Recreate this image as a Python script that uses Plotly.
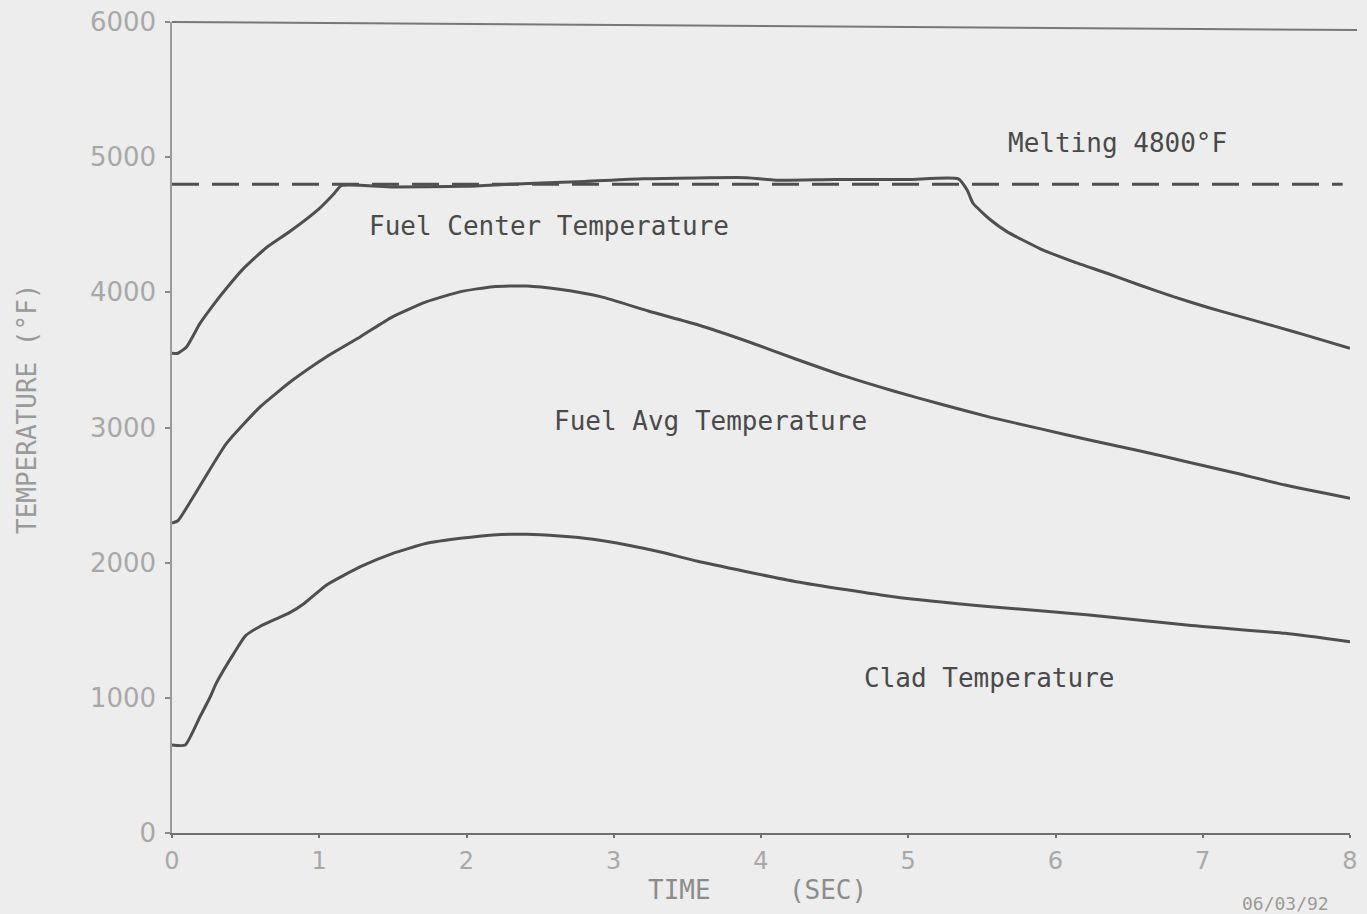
import plotly.graph_objects as go

# ---- data ----
time_center = [0, 0.04, 0.10, 0.19, 0.28, 0.37, 0.48, 0.64, 0.80, 1.00, 1.10, 1.15,
               1.5, 2.0, 2.3, 2.8, 3.2, 3.9, 4.1, 4.5, 5.0, 5.34, 5.40, 5.44, 5.56, 5.67,
               5.89, 6.12, 6.35, 6.57, 6.80, 7.03, 7.25, 7.48, 7.71, 8.0]
temp_center = [3549, 3549, 3598, 3770, 3906, 4030, 4170, 4330, 4450, 4620, 4730, 4790,
               4780, 4785, 4800, 4820, 4840, 4848, 4830, 4835, 4835, 4840, 4757, 4659, 4535, 4449,
               4326, 4227, 4141, 4054, 3968, 3890, 3822, 3752, 3680, 3586]

time_avg = [0, 0.04, 0.145, 0.37, 0.6, 0.82, 1.05, 1.28, 1.50, 1.73, 1.96, 2.18, 2.41, 2.63,
            2.91, 3.24, 3.57, 3.90, 4.24, 4.57, 4.90, 5.23, 5.56, 5.90, 6.23, 6.56, 6.89,
            7.23, 7.56, 8.0]
temp_avg = [2293, 2310, 2488, 2883, 3154, 3351, 3524, 3672, 3820, 3931, 4005, 4042, 4047, 4022,
            3968, 3860, 3760, 3640, 3505, 3380, 3270, 3170, 3075, 2990, 2907, 2830, 2747,
            2661, 2574, 2476]

time_clad = [0, 0.09, 0.19, 0.26, 0.30, 0.42, 0.50, 0.60, 0.70, 0.80, 0.90, 1.05, 1.28,
             1.50, 1.73, 1.96, 2.18, 2.41, 2.63, 2.86, 3.09, 3.31, 3.57, 4.24, 4.90, 5.56,
             6.23, 6.89, 7.56, 8.0]
temp_clad = [651, 651, 860, 1008, 1107, 1329, 1460, 1530, 1580, 1630, 1700, 1835, 1970,
             2069, 2143, 2180, 2205, 2210, 2197, 2173, 2131, 2081, 2010, 1859, 1748, 1674,
             1613, 1539, 1477, 1415]

melt_time = [0, 7.95]
melt_temp = [4800, 4800]

x_ticks = [0, 1, 2, 3, 4, 5, 6, 7, 8]
y_ticks = [0, 1000, 2000, 3000, 4000, 5000, 6000]

labels = ["Fuel Center Temperature", "Fuel Avg Temperature", "Clad Temperature", "Melting 4800\u00b0F"]
label_t = [2.56, 3.66, 5.55, 6.42]
label_T = [4491, 3048, 1147, 5105]

# ---- styling ----
BG = "#ededed"
LINE = "#4f4f4f"
MONO = "DejaVu Sans Mono"

fig = go.Figure()
fig.add_trace(go.Scatter(x=melt_time, y=melt_temp, mode="lines",
                         line=dict(color=LINE, width=3, dash="27px,13px"), hoverinfo="skip"))
for tx, ty in [(time_center, temp_center), (time_avg, temp_avg), (time_clad, temp_clad)]:
    fig.add_trace(go.Scatter(x=tx, y=ty, mode="lines",
                             line=dict(color=LINE, width=3, shape="spline", smoothing=0.5),
                             hoverinfo="skip"))

for txt, t, T in zip(labels, label_t, label_T):
    fig.add_annotation(x=t, y=T, text=txt, showarrow=False, xanchor="center", yanchor="middle",
                       font=dict(family=MONO, size=26, color="#4a4a4a"))

# axis titles and date stamp
fig.add_annotation(xref="paper", yref="paper", x=(757 - 172) / 1178, y=(833 - 890) / 811,
                   text="TIME     (SEC)", showarrow=False, xanchor="center", yanchor="middle",
                   font=dict(family=MONO, size=26, color="#8c8c8c"))
fig.add_annotation(xref="paper", yref="paper", x=(27 - 172) / 1178, y=(833 - 409) / 811,
                   text="TEMPERATURE (\u00b0F)", textangle=-90, showarrow=False,
                   xanchor="center", yanchor="middle",
                   font=dict(family=MONO, size=26, color="#9a9a9a"))
fig.add_annotation(xref="paper", yref="paper", x=(1285 - 172) / 1178, y=(833 - 903) / 811,
                   text="06/03/92", showarrow=False, xanchor="center", yanchor="middle",
                   font=dict(family=MONO, size=18, color="#9a9a9a"))

# top frame line (slightly skewed in the scan)
fig.add_shape(type="line", xref="paper", yref="paper", x0=0, y0=1, x1=1.006, y1=1 - 8 / 811,
              line=dict(color="#777777", width=2))

fig.update_layout(
    width=1367, height=914,
    margin=dict(l=172, r=17, t=22, b=81, autoexpand=False),
    paper_bgcolor=BG, plot_bgcolor=BG,
    showlegend=False,
    xaxis=dict(range=[0, 8], tickvals=x_ticks, ticktext=[str(v) for v in x_ticks],
               automargin=False,
               showgrid=False, zeroline=False, showline=True, linecolor="#707070", linewidth=2,
               ticks="outside", ticklen=3, tickcolor="#707070", tickwidth=2,
               tickfont=dict(family="DejaVu Sans", size=24, color="#a8a8a8"),
               ticklabelstandoff=2),
    yaxis=dict(range=[0, 6000], tickvals=y_ticks, ticktext=[str(v) for v in y_ticks],
               automargin=False,
               showgrid=False, zeroline=False, showline=True, linecolor="#9a9a9a", linewidth=1.5,
               ticks="outside", ticklen=5, tickcolor="#8a8a8a", tickwidth=2,
               tickfont=dict(family="DejaVu Sans", size=26, color="#a8a8a8"),
               ticklabelstandoff=4),
)

fig.write_html("out.html")
